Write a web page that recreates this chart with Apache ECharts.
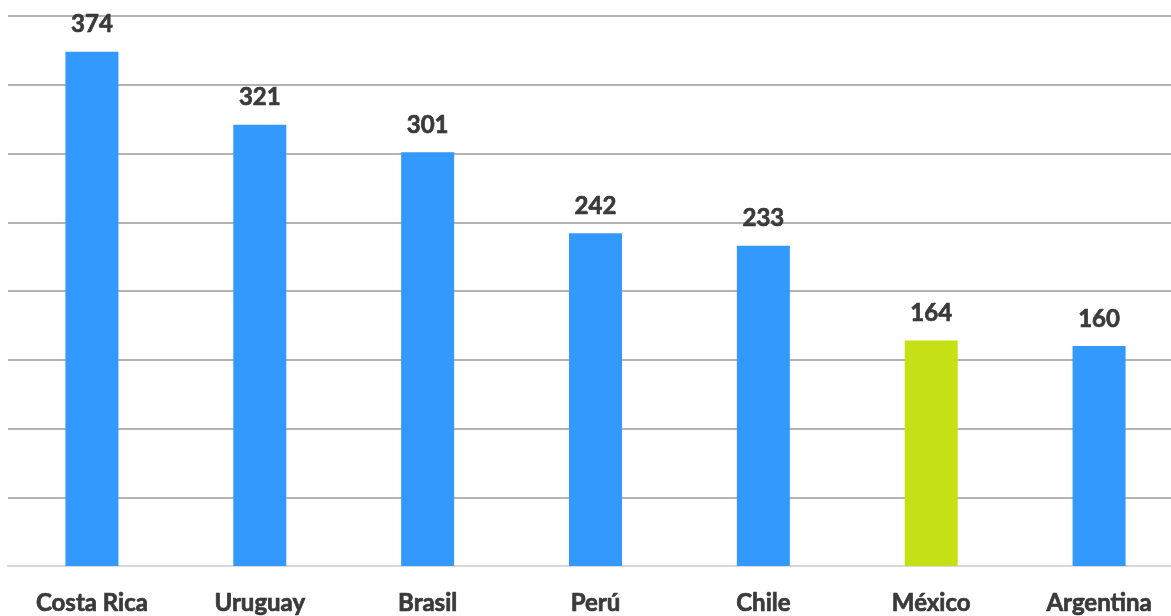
<!DOCTYPE html>
<html>
<head>
<meta charset="utf-8">
<script src="https://cdn.jsdelivr.net/npm/echarts@6/dist/echarts.min.js"></script>
<style>
  html, body { margin: 0; padding: 0; background: #ffffff; overflow: hidden; }
  /* the plot runs slightly past the right edge of the window */
  #chart { width: 1183px; height: 616px; }
</style>
</head>
<body>
<div id="chart"></div>
<script>
// Countries, ordered from highest to lowest value
const countries = ['Costa Rica', 'Uruguay', 'Brasil', 'Perú', 'Chile', 'México', 'Argentina'];
const values = [374, 321, 301, 242, 233, 164, 160];
// México is highlighted in green, the rest are blue
const highlighted = ['México'];

const BLUE = '#3399ff';
const GREEN = '#c5e015';
const TEXT = '#3a3a3a';
const FONT = 'Lato, "Open Sans", sans-serif';

// Bold text, thickened slightly with a same-colour stroke
const textStyle = {
  color: TEXT,
  fontFamily: FONT,
  fontWeight: 'bold',
  fontSize: 24,
  textBorderColor: TEXT,
  textBorderWidth: 0.7
};

const chart = echarts.init(document.getElementById('chart'), null, { renderer: 'canvas' });

chart.setOption({
  animation: false,
  backgroundColor: '#ffffff',
  grid: { left: 8, right: 0, top: 16, bottom: 50, containLabel: false },
  xAxis: {
    type: 'category',
    data: countries,
    axisTick: { show: false },
    axisLine: { show: true, lineStyle: { color: '#d9d9d9', width: 2 } },
    axisLabel: Object.assign({ margin: 25, interval: 0 }, textStyle)
  },
  yAxis: {
    type: 'value',
    min: 0,
    max: 400,
    interval: 50,
    axisLabel: { show: false },
    axisLine: { show: false },
    axisTick: { show: false },
    splitLine: { show: true, lineStyle: { color: '#b3b3b3', width: 2 } }
  },
  series: [{
    type: 'bar',
    barWidth: 53,
    data: values.map((v, i) => ({
      value: v,
      itemStyle: { color: highlighted.includes(countries[i]) ? GREEN : BLUE }
    })),
    label: Object.assign({ show: true, position: 'top', distance: 15 }, textStyle)
  }]
});
</script>
</body>
</html>
